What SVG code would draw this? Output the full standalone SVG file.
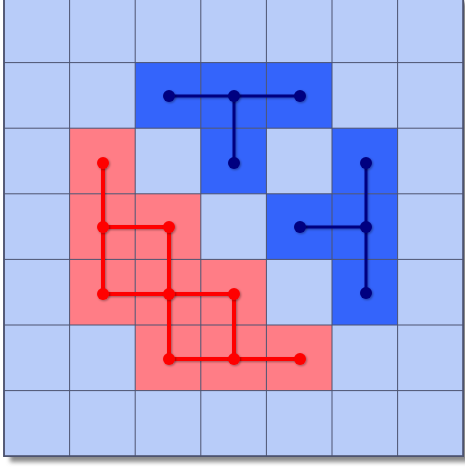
<svg xmlns="http://www.w3.org/2000/svg" width="465" height="468" viewBox="0 0 465 468">
<style>
.cell{stroke:#4d5370;stroke-width:1}
.lb{fill:#b8ccf9}
.db{fill:#3464fb}
.rd{fill:#ff7d86}
.rl{stroke:#ff0000;stroke-width:4;stroke-linecap:round;fill:none}
.bl{stroke:#000080;stroke-width:3;stroke-linecap:round;fill:none}
.rdot{fill:#ff0000}
.bdot{fill:#000080}
</style>
<defs>
<filter id="sh" x="-10%" y="-10%" width="120%" height="120%">
<feGaussianBlur stdDeviation="2"/>
</filter>
<filter id="ds" x="-50%" y="-50%" width="200%" height="200%">
<feDropShadow dx="1" dy="1" stdDeviation="1" flood-color="#000" flood-opacity="0.35"/>
</filter>
</defs>
<rect x="10" y="2" width="459" height="460" fill="#8a8a8a" filter="url(#sh)"/>
<g id="grid">
<rect x="4" y="-3" width="459.2" height="459.2" fill="#b8ccf9" stroke="#4d5370" stroke-width="1.5"/>
<!-- dark blue cells -->
<rect class="db" x="135.2" y="62.6" width="65.6" height="65.6"/>
<rect class="db" x="200.8" y="62.6" width="65.6" height="65.6"/>
<rect class="db" x="266.4" y="62.6" width="65.6" height="65.6"/>
<rect class="db" x="200.8" y="128.2" width="65.6" height="65.6"/>
<rect class="db" x="332" y="128.2" width="65.6" height="65.6"/>
<rect class="db" x="266.4" y="193.8" width="65.6" height="65.6"/>
<rect class="db" x="332" y="193.8" width="65.6" height="65.6"/>
<rect class="db" x="332" y="259.4" width="65.6" height="65.6"/>
<!-- red cells -->
<rect class="rd" x="69.6" y="128.2" width="65.6" height="65.6"/>
<rect class="rd" x="69.6" y="193.8" width="65.6" height="65.6"/>
<rect class="rd" x="135.2" y="193.8" width="65.6" height="65.6"/>
<rect class="rd" x="69.6" y="259.4" width="65.6" height="65.6"/>
<rect class="rd" x="135.2" y="259.4" width="65.6" height="65.6"/>
<rect class="rd" x="200.8" y="259.4" width="65.6" height="65.6"/>
<rect class="rd" x="135.2" y="325" width="65.6" height="65.6"/>
<rect class="rd" x="200.8" y="325" width="65.6" height="65.6"/>
<rect class="rd" x="266.4" y="325" width="65.6" height="65.6"/>
<path d="M69.6 -3V456.2M135.2 -3V456.2M200.8 -3V456.2M266.4 -3V456.2M332 -3V456.2M397.6 -3V456.2M4 62.6H463.2M4 128.2H463.2M4 193.8H463.2M4 259.4H463.2M4 325H463.2M4 390.6H463.2" stroke="#4d5370" stroke-width="1" fill="none"/>
<rect x="4" y="-3" width="459.2" height="459.2" fill="none" stroke="#4d5370" stroke-width="1.5"/>
</g>
<g id="connectors" filter="url(#ds)">
<path class="rl" d="M103 163V294M103 227H169V294M103 294H234V359M169 294V359M169 359H300"/>
<path class="bl" d="M169 96H300M234 96V163M366 163V293M300 227H366"/>
</g>
<g id="nodes" filter="url(#ds)">
<g id="r1"><circle class="rdot" cx="103" cy="163" r="6"/></g>
<g id="r2"><circle class="rdot" cx="103" cy="227" r="6"/></g>
<g id="r3"><circle class="rdot" cx="169" cy="227" r="6"/></g>
<g id="r4"><circle class="rdot" cx="103" cy="294" r="6"/></g>
<g id="r5"><circle class="rdot" cx="169" cy="294" r="6"/></g>
<g id="r6"><circle class="rdot" cx="234" cy="294" r="6"/></g>
<g id="r7"><circle class="rdot" cx="169" cy="359" r="6"/></g>
<g id="r8"><circle class="rdot" cx="234" cy="359" r="6"/></g>
<g id="r9"><circle class="rdot" cx="300" cy="359" r="6"/></g>
<g id="b1"><circle class="bdot" cx="169" cy="96" r="6"/></g>
<g id="b2"><circle class="bdot" cx="234" cy="96" r="6"/></g>
<g id="b3"><circle class="bdot" cx="300" cy="96" r="6"/></g>
<g id="b4"><circle class="bdot" cx="234" cy="163" r="6"/></g>
<g id="b5"><circle class="bdot" cx="366" cy="163" r="6"/></g>
<g id="b6"><circle class="bdot" cx="300" cy="227" r="6"/></g>
<g id="b7"><circle class="bdot" cx="366" cy="227" r="6"/></g>
<g id="b8"><circle class="bdot" cx="366" cy="293" r="6"/></g>
</g>
</svg>
